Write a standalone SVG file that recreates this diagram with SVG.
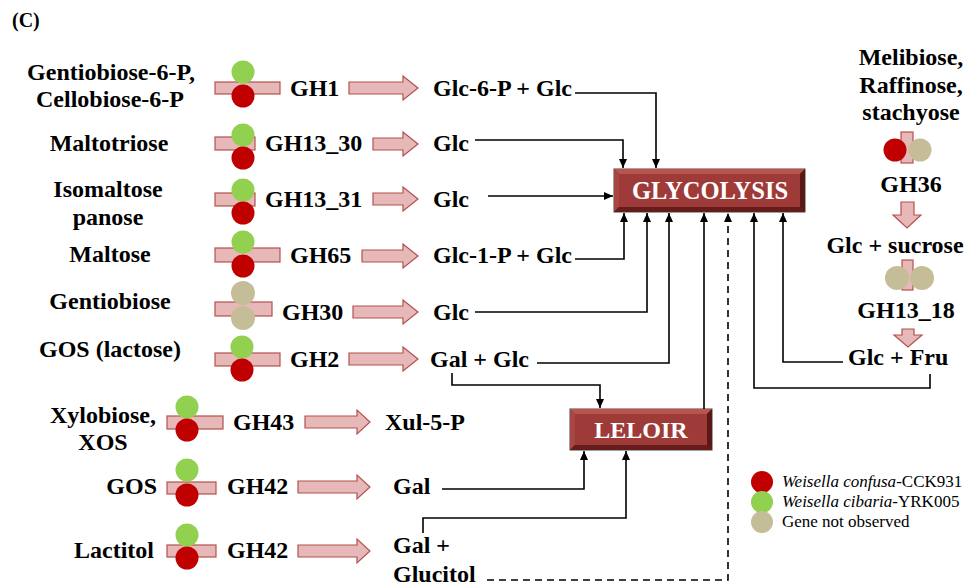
<svg xmlns="http://www.w3.org/2000/svg" width="966" height="586" viewBox="0 0 966 586" font-family="'Liberation Serif', 'Times New Roman', serif">
<defs>
<marker id="ah" markerUnits="userSpaceOnUse" markerWidth="10" markerHeight="10" viewBox="0 0 10 10" refX="9" refY="5" orient="auto">
<path d="M0,1 L9,5 L0,9 Z" fill="#000"/>
</marker>
<style>
text{font-family:'Liberation Serif','Times New Roman',serif;fill:#000}
.b{font-weight:bold;font-size:24px}
.m{text-anchor:middle}
.e{text-anchor:end}
.w{fill:#fff;font-weight:bold;font-size:24px;text-anchor:middle}
.lg{font-size:17px}
.bar{fill:#E6B9B8;stroke:#B4504D;stroke-width:1.2}
.g{fill:#92D050}
.r{fill:#C00000}
.t{fill:#C4BD97}
.c{fill:none;stroke:#000;stroke-width:1.6}
.d{stroke-dasharray:7,5}
.o{fill:#7A2624;stroke:#444;stroke-width:1}
.bt{fill:#B8554F}
.bl{fill:#A84643}
.br{fill:#5A1816}
.bb{fill:#661C1A}
.in{fill:#9E3A37}
</style>
</defs>
<rect width="966" height="586" fill="#fff"/>
<text class="b" x="12" y="27" style="font-size:20px">(C)</text>

<g id="row-gh1">
<text class="b m" x="111" y="80">Gentiobiose-6-P,</text>
<text class="b m" x="110" y="107">Cellobiose-6-P</text>
<rect class="bar" x="215" y="82" width="65" height="12"/>
<circle class="g" cx="243" cy="72" r="11.5"/><circle class="r" cx="243" cy="96" r="11.5"/>
<text class="b" x="290" y="96">GH1</text>
<path class="bar" d="M349,82 H403 V76 L418,88 L403,100 V94 H349 Z"/>
<text class="b" x="433" y="96">Glc-6-P + Glc</text>
</g>
<g id="row-gh13-30">
<text class="b m" x="109" y="151">Maltotriose</text>
<rect class="bar" x="215" y="137" width="40" height="13"/>
<circle class="g" cx="243" cy="135" r="11.5"/><circle class="r" cx="243" cy="158" r="11.5"/>
<text class="b" x="265" y="151">GH13_30</text>
<path class="bar" d="M373,138 H403 V132 L418,144 L403,156 V150 H373 Z"/>
<text class="b" x="433" y="151">Glc</text>
</g>
<g id="row-gh13-31">
<text class="b m" x="108" y="197">Isomaltose</text>
<text class="b m" x="108" y="225">panose</text>
<rect class="bar" x="215" y="193" width="40" height="13"/>
<circle class="g" cx="243" cy="190" r="11.5"/><circle class="r" cx="243" cy="213" r="11.5"/>
<text class="b" x="265" y="207">GH13_31</text>
<path class="bar" d="M373,193 H403 V187 L418,199 L403,211 V205 H373 Z"/>
<text class="b" x="433" y="207">Glc</text>
</g>
<g id="row-gh65">
<text class="b m" x="110" y="262">Maltose</text>
<rect class="bar" x="215" y="248" width="65" height="14"/>
<circle class="g" cx="243" cy="242" r="11.5"/><circle class="r" cx="243" cy="266" r="11.5"/>
<text class="b" x="290" y="263">GH65</text>
<path class="bar" d="M362,250 H403 V244 L418,256 L403,268 V262 H362 Z"/>
<text class="b" x="433" y="263">Glc-1-P + Glc</text>
</g>
<g id="row-gh30">
<text class="b m" x="110" y="309">Gentiobiose</text>
<rect class="bar" x="215" y="302" width="57" height="14"/>
<circle class="t" cx="243" cy="293" r="12"/><circle class="t" cx="243" cy="318" r="12"/>
<text class="b" x="282" y="320">GH30</text>
<path class="bar" d="M353,306 H403 V300 L418,312 L403,324 V318 H353 Z"/>
<text class="b" x="433" y="320">Glc</text>
</g>
<g id="row-gh2">
<text class="b m" x="110" y="357">GOS (lactose)</text>
<rect class="bar" x="215" y="353" width="65" height="13"/>
<circle class="g" cx="242" cy="347" r="11.5"/><circle class="r" cx="242" cy="370" r="11.5"/>
<text class="b" x="290" y="367">GH2</text>
<path class="bar" d="M349,353 H403 V347 L418,359 L403,371 V365 H349 Z"/>
<text class="b" x="430" y="367">Gal + Glc</text>
</g>
<g id="row-gh43">
<text class="b m" x="103" y="423">Xylobiose,</text>
<text class="b m" x="103" y="450">XOS</text>
<rect class="bar" x="167" y="416" width="56" height="13"/>
<circle class="g" cx="187" cy="407" r="11.5"/><circle class="r" cx="187" cy="430" r="11.5"/>
<text class="b" x="233" y="430">GH43</text>
<path class="bar" d="M305,416 H357 V410 L370,422 L357,434 V428 H305 Z"/>
<text class="b" x="385" y="430">Xul-5-P</text>
</g>
<g id="row-gh42-gos">
<text class="b e" x="157" y="494">GOS</text>
<rect class="bar" x="167" y="482" width="49" height="12"/>
<circle class="g" cx="187" cy="470" r="11.5"/><circle class="r" cx="187" cy="495" r="11.5"/>
<text class="b" x="227" y="494">GH42</text>
<path class="bar" d="M298,481 H357 V475 L370,487 L357,499 V493 H298 Z"/>
<text class="b" x="393" y="494">Gal</text>
</g>
<g id="row-gh42-lactitol">
<text class="b e" x="154" y="558">Lactitol</text>
<rect class="bar" x="167" y="545" width="49" height="12"/>
<circle class="g" cx="187" cy="535" r="11.5"/><circle class="r" cx="187" cy="558" r="11.5"/>
<text class="b" x="227" y="558">GH42</text>
<path class="bar" d="M298,545 H357 V539 L370,551 L357,563 V557 H298 Z"/>
<text class="b" x="393" y="553">Gal +</text>
<text class="b" x="393" y="582">Glucitol</text>
</g>

<g id="glycolysis">
<rect class="o" x="614" y="169" width="191" height="43"/>
<polygon class="bt" points="614,169 805,169 800,174 619,174"/>
<polygon class="bl" points="614,169 619,174 619,207 614,212"/>
<polygon class="br" points="805,169 805,212 800,207 800,174"/>
<polygon class="bb" points="614,212 805,212 800,207 619,207"/>
<rect class="in" x="619" y="174" width="181" height="33"/>
<text class="w" x="710" y="199" style="font-size:24.5px">GLYCOLYSIS</text>
</g>
<g id="leloir">
<rect class="o" x="570" y="409" width="142" height="41"/>
<polygon class="bt" points="570,409 712,409 707,414 575,414"/>
<polygon class="bl" points="570,409 575,414 575,445 570,450"/>
<polygon class="br" points="712,409 712,450 707,445 707,414"/>
<polygon class="bb" points="570,450 712,450 707,445 575,445"/>
<rect class="in" x="575" y="414" width="132" height="31"/>
<text class="w" x="641" y="438">LELOIR</text>
</g>

<g id="raffinose-branch">
<text class="b m" x="911" y="65">Melibiose,</text>
<text class="b m" x="911" y="93">Raffinose,</text>
<text class="b m" x="911" y="120">stachyose</text>
<rect class="bar" x="901" y="132" width="12" height="31"/>
<circle class="r" cx="895" cy="150" r="11.5"/><circle class="t" cx="920" cy="150" r="11.5"/>
<text class="b m" x="911" y="192">GH36</text>
<path class="bar" d="M901,202 H914 V215 H921 L907,228 L893,215 H901 Z"/>
<text class="b m" x="895" y="253">Glc + sucrose</text>
<rect class="bar" x="902" y="260" width="11" height="30"/>
<circle class="t" cx="897" cy="278" r="12"/><circle class="t" cx="922" cy="278" r="12"/>
<text class="b m" x="906" y="318">GH13_18</text>
<path class="bar" d="M902,329 H914 V335 H922 L908,347 L894,335 H902 Z"/>
<text class="b" x="848" y="365">Glc + Fru</text>
</g>

<g id="connectors">
<path class="c" d="M575,93 H656 V168" marker-end="url(#ah)"/>
<path class="c" d="M475,140 H623 V168" marker-end="url(#ah)"/>
<path class="c" d="M488,196 H613" marker-end="url(#ah)"/>
<path class="c" d="M575,259 H624 V213" marker-end="url(#ah)"/>
<path class="c" d="M475,312 H647 V213" marker-end="url(#ah)"/>
<path class="c" d="M537,363 H669 V213" marker-end="url(#ah)"/>
<path class="c" d="M452,373 V385 H600 V408" marker-end="url(#ah)"/>
<path class="c" d="M704,409 V213" marker-end="url(#ah)"/>
<path class="c" d="M442,489 H584 V451" marker-end="url(#ah)"/>
<path class="c" d="M423,533 V518 H626 V451" marker-end="url(#ah)"/>
<path class="c d" d="M487,580 H728 V213" marker-end="url(#ah)"/>
<path class="c" d="M930,374 V388 H754 V213" marker-end="url(#ah)"/>
<path class="c" d="M843,362 H783 V213" marker-end="url(#ah)"/>
</g>

<g id="legend">
<circle class="r" cx="762" cy="482" r="11"/>
<circle class="g" cx="762" cy="502" r="11"/>
<circle class="t" cx="762" cy="522" r="11"/>
<text class="lg" x="782" y="487"><tspan font-style="italic">Weisella confusa</tspan>-CCK931</text>
<text class="lg" x="782" y="507"><tspan font-style="italic">Weisella cibaria</tspan>-YRK005</text>
<text class="lg" x="782" y="527">Gene not observed</text>
</g>
</svg>
